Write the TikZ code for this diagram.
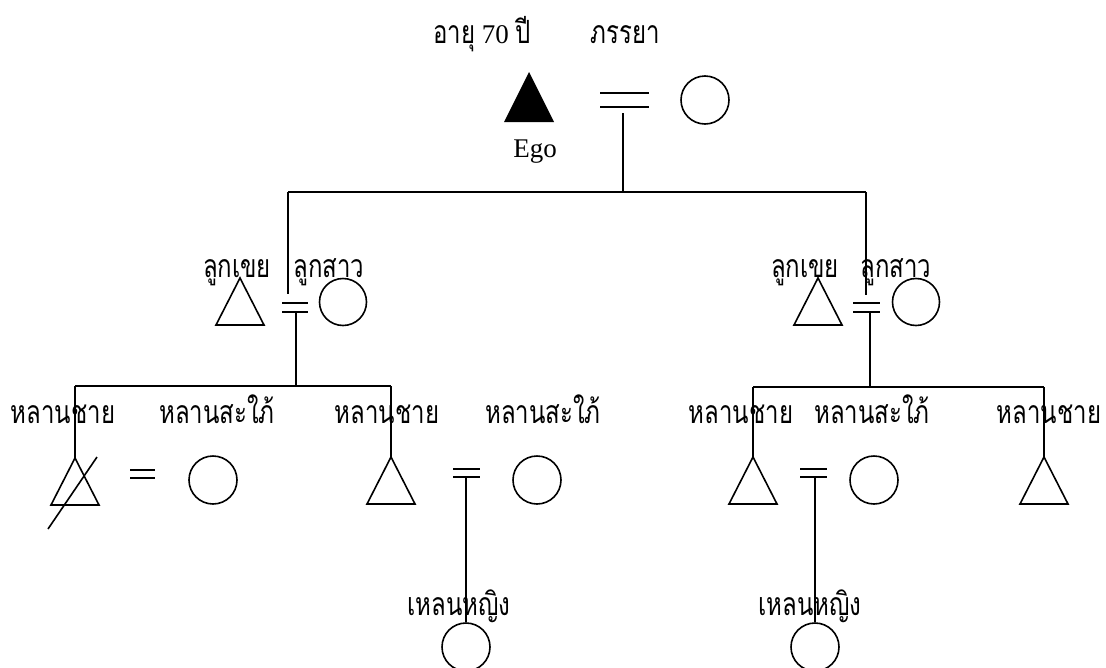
\documentclass[tikz,border=0pt]{standalone}
\usepackage{fontspec}
\setmainfont{Liberation Serif}
\newfontfamily\thaif[Script=Thai, FakeStretch=0.75]{Loma}
\tikzset{
  kin/.style={line width=1.6pt},
  fem/.style={draw, circle, line width=1.6pt, minimum size=48pt, inner sep=0pt},
  lbl/.style={inner sep=0pt, anchor=base, font=\thaif\fontsize{32}{34}\selectfont},
  latin/.style={inner sep=0pt, anchor=base, font=\fontsize{27}{29}\selectfont},
  male/.pic={\draw[line width=1.6pt, line join=miter] (0,0) -- (-24,47) -- (24,47) -- cycle;},
  egomale/.pic={\fill (0,0) -- (-25,50) -- (25,50) -- cycle;},
}
\begin{document}
\begin{tikzpicture}[x=1pt,y=-1pt]
\useasboundingbox (0,0) rectangle (1106,667);

% ---------- generation 1 ----------
\node[latin] (ageL) at (482,43) {{\thaif\fontsize{32}{34}\selectfont อายุ} 70 {\thaif\fontsize{32}{34}\selectfont ปี}};
\node[lbl] (wifeL) at (625,43) {ภรรยา};
\coordinate (ego) at (529,72);
\pic at (ego) {egomale};
\node[latin] (egoL) at (535,157) {Ego};
\coordinate (m1a) at (600,93); \coordinate (m1b) at (649,93);
\coordinate (m1c) at (600,107); \coordinate (m1d) at (649,107);
\draw[kin] (m1a) -- (m1b) (m1c) -- (m1d);
\node[fem] (wife) at (705,100) {};
\coordinate (d1) at (623,113);
\coordinate (s1) at (623,192);
\draw[kin] (d1) -- (s1);
\coordinate (s1L) at (288,192);
\coordinate (s1R) at (866,192);
\draw[kin] (s1L) -- (s1R);

% ---------- generation 2, left ----------
\coordinate (sl1) at (240,278);
\pic at (sl1) {male};
\node[lbl] (sl1L) at (237,277) {ลูกเขย};
\node[lbl] (dl1L) at (329,277) {ลูกสาว};
\node[fem, minimum size=47pt] (dl1) at (343,302) {};
\coordinate (dt1) at (288,294);
\draw[kin] (s1L) -- (dt1);
\coordinate (m2a) at (282,303); \coordinate (m2b) at (308,303);
\coordinate (m2c) at (282,312); \coordinate (m2d) at (308,312);
\draw[kin] (m2a) -- (m2b) (m2c) -- (m2d);
\coordinate (d2) at (296,313);
\coordinate (s2) at (296,386);
\draw[kin] (d2) -- (s2);

% ---------- generation 2, right ----------
\coordinate (sl2) at (818,278);
\pic at (sl2) {male};
\node[lbl] (sl2L) at (805,277) {ลูกเขย};
\node[lbl] (dl2L) at (896,277) {ลูกสาว};
\node[fem, minimum size=47pt] (dl2) at (916,302) {};
\coordinate (dt2) at (866,295);
\draw[kin] (s1R) -- (dt2);
\coordinate (m3a) at (853,303); \coordinate (m3b) at (880,303);
\coordinate (m3c) at (853,312); \coordinate (m3d) at (880,312);
\draw[kin] (m3a) -- (m3b) (m3c) -- (m3d);
\coordinate (d3) at (870,313);
\coordinate (s3) at (870,387);
\draw[kin] (d3) -- (s3);

% ---------- generation 3, left ----------
\coordinate (s2L) at (75,386);
\coordinate (s2R) at (391,386);
\draw[kin] (s2L) -- (s2R);
\coordinate (gs1) at (75,458);
\coordinate (gs2) at (391,457);
\draw[kin] (s2L) -- (gs1) (s2R) -- (gs2);
\pic at (gs1) {male};
\pic at (gs2) {male};
\coordinate (x1) at (48,529); \coordinate (x2) at (97,457);
\draw[kin] (x1) -- (x2);
\node[lbl] (gs1L) at (63,423) {หลานชาย};
\node[lbl] (gd1L) at (217,423) {หลานสะใภ้};
\coordinate (e1a) at (130,470); \coordinate (e1b) at (155,470);
\coordinate (e1c) at (130,478); \coordinate (e1d) at (155,478);
\draw[kin] (e1a) -- (e1b) (e1c) -- (e1d);
\node[fem] (gd1) at (213,480) {};
\node[lbl] (gs2L) at (387,423) {หลานชาย};
\node[lbl] (gd2L) at (543,423) {หลานสะใภ้};
\coordinate (e2a) at (453,469); \coordinate (e2b) at (480,469);
\coordinate (e2c) at (453,477); \coordinate (e2d) at (480,477);
\draw[kin] (e2a) -- (e2b) (e2c) -- (e2d);
\node[fem] (gd2) at (537,480) {};

% ---------- generation 3, right ----------
\coordinate (s3L) at (753,387);
\coordinate (s3R) at (1044,387);
\draw[kin] (s3L) -- (s3R);
\coordinate (gs3) at (753,457);
\coordinate (gs4) at (1044,457);
\draw[kin] (s3L) -- (gs3) (s3R) -- (gs4);
\pic at (gs3) {male};
\pic at (gs4) {male};
\node[lbl] (gs3L) at (741,423) {หลานชาย};
\node[lbl] (gd3L) at (872,423) {หลานสะใภ้};
\node[lbl] (gs4L) at (1049,423) {หลานชาย};
\coordinate (e3a) at (800,469); \coordinate (e3b) at (827,469);
\coordinate (e3c) at (800,477); \coordinate (e3d) at (827,477);
\draw[kin] (e3a) -- (e3b) (e3c) -- (e3d);
\node[fem] (gd3) at (874,480) {};

% ---------- generation 4 ----------
\node[fem] (ggd1) at (466,647) {};
\node[fem] (ggd2) at (815,647) {};
\coordinate (d4) at (466,478);
\coordinate (d5) at (815,478);
\draw[kin] (d4) -- (ggd1.north) (d5) -- (ggd2.north);
\node[lbl] (ggd1L) at (459,615) {เหลนหญิง};
\node[lbl] (ggd2L) at (810,615) {เหลนหญิง};
\end{tikzpicture}
\end{document}
